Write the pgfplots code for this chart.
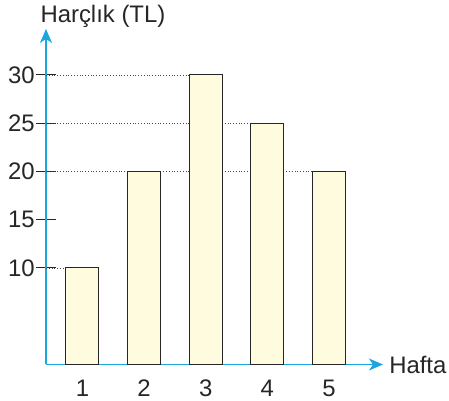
\documentclass[border=0pt]{standalone}
\usepackage{fontspec}
\setmainfont{Liberation Sans}
\usepackage{pgfplots}
\pgfplotsset{compat=1.18}
\usetikzlibrary{arrows.meta}
\definecolor{axcyan}{RGB}{27,166,224}
\definecolor{barfill}{RGB}{255,251,222}
\begin{document}
\begin{tikzpicture}
\useasboundingbox (0bp,0bp) rectangle (449bp,401bp);
\begin{axis}[
  at={(46bp,36.5bp)}, anchor=south west,
  x=61.6bp, y=9.65bp,
  xmin=0.4075, xmax=5.878, ymin=0, ymax=34.77,
  axis x line=bottom, axis y line=left,
  axis line style={axcyan, line width=1.1bp, -{Stealth[length=14bp,width=12bp,inset=4bp]}},
  xtick={1,2,3,4,5},
  ytick={10,15,20,25,30},
  xtick style={draw=none},
  ytick style={black!85, line width=1bp},
  major tick length=20bp, tick align=center,
  /pgf/number format/assume math mode=true,
  every tick label/.append style={font=\fontsize{24}{28}\selectfont, text=black!85},
  label style={font=\fontsize{24}{28}\selectfont, text=black!85},
  xticklabel style={yshift=-2bp},
  yticklabel style={inner sep=1bp},
  xlabel={Hafta},
  xlabel style={at={(axis description cs:1.018,0)}, anchor=west, inner sep=0pt},
  ylabel={Harçlık (TL)},
  ylabel style={rotate=-90, at={(axis description cs:0.169,1.039)}, anchor=center, inner sep=0pt},
  clip=false,
]
\addplot[dotted, black!70, line width=0.8bp, forget plot] coordinates {(0.4075,30) (3,30)};
\addplot[dotted, black!70, line width=0.8bp, forget plot] coordinates {(0.4075,25) (4,25)};
\addplot[dotted, black!70, line width=0.8bp, forget plot] coordinates {(0.4075,20) (5,20)};
\addplot[dotted, black!70, line width=0.8bp, forget plot] coordinates {(0.4075,10) (1,10)};
\addplot[ybar, bar width=33bp, fill=barfill, draw=black!85, line width=1bp] coordinates {(1,10) (2,20) (3,30) (4,25) (5,20)};
\end{axis}
\end{tikzpicture}
\end{document}
